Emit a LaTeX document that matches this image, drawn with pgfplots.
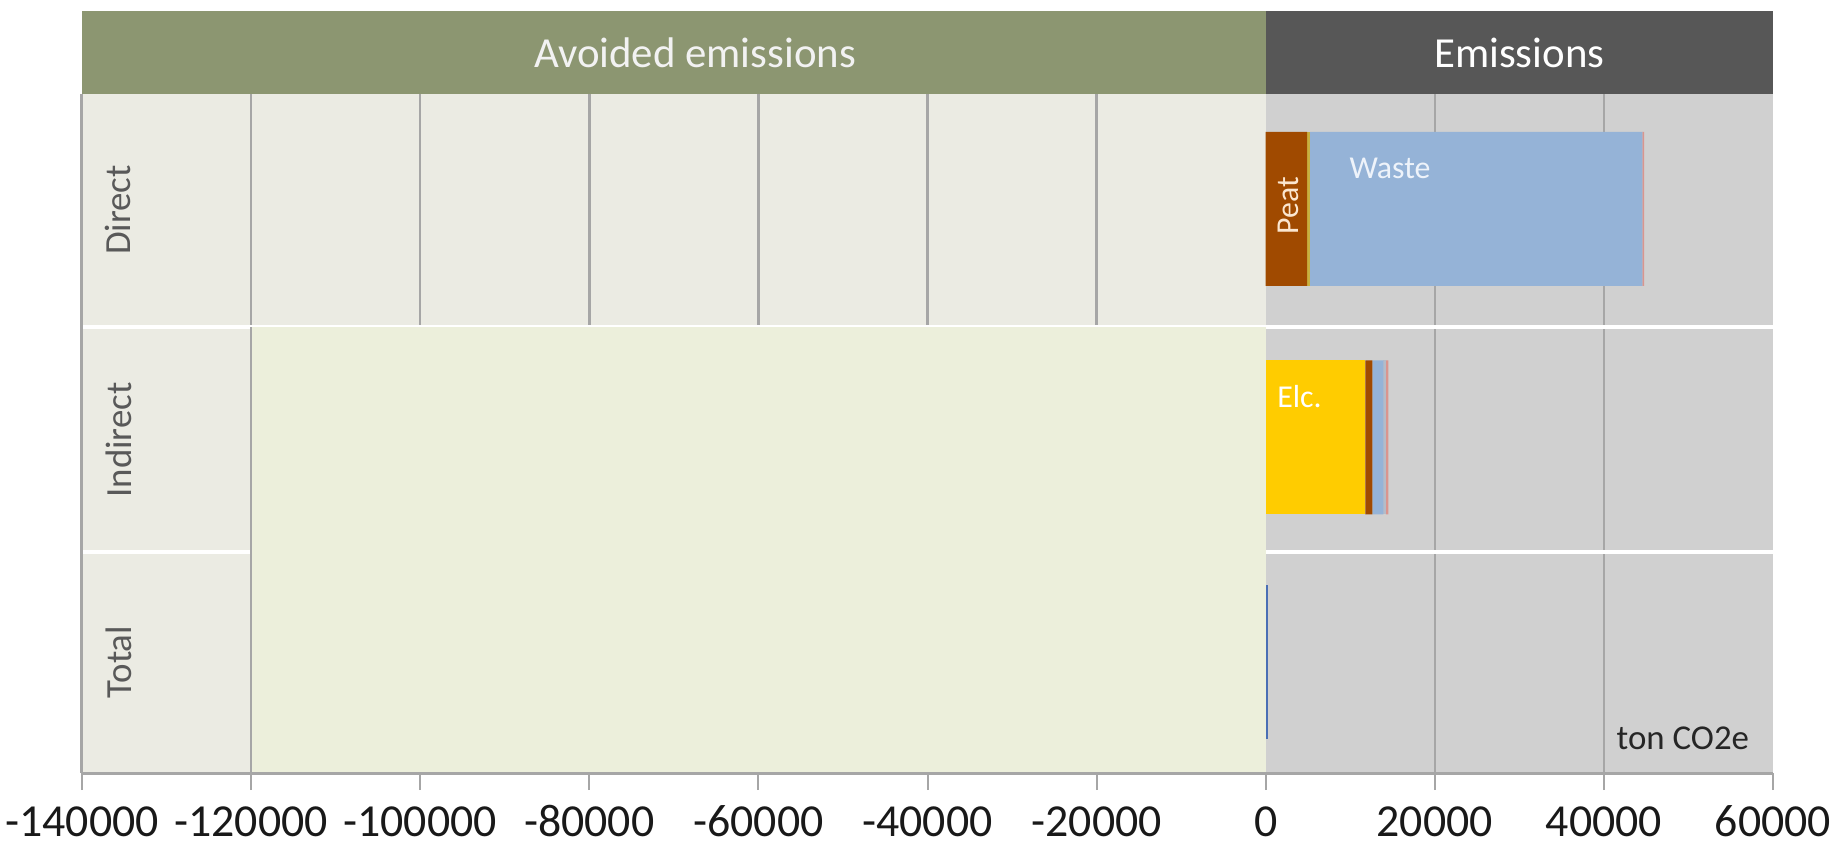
\documentclass[border=0pt]{standalone}
\usepackage{fontspec}
\setmainfont{Carlito}
\usepackage{pgfplots}
\pgfplotsset{compat=1.18}

\definecolor{hdrgreen}{HTML}{8C9671}
\definecolor{hdrgrey}{HTML}{575757}
\definecolor{bgleft}{HTML}{EBEBE3}
\definecolor{bgright}{HTML}{D0D0D0}
\definecolor{blockc}{HTML}{ECEFDB}
\definecolor{gridc}{HTML}{A6A6A6}
\definecolor{rowlab}{HTML}{595959}
\definecolor{peatc}{HTML}{A04A00}
\definecolor{bioc}{HTML}{C8B040}
\definecolor{wastec}{HTML}{95B3D7}
\definecolor{otherc}{HTML}{B4BCC8}
\definecolor{pinkc}{HTML}{D9958F}
\definecolor{elcc}{HTML}{FFCC00}
\definecolor{netc}{HTML}{4A6FB5}
\definecolor{wastetxt}{HTML}{EEF3FA}
\definecolor{peattxt}{HTML}{FBE6CF}

% y values are rows: Direct 564, Indirect 335.5, Total 111
\pgfplotsset{
  base/.style={
    width=845.5bp, height=339.5bp, scale only axis,
    at={(0,0)}, anchor=south west,
    xmin=-140000, xmax=60000, ymin=0, ymax=679,
  },
}

\begin{document}
\begin{tikzpicture}
\path[use as bounding box] (-41bp,-36.5bp) rectangle (875bp,386.5bp);

% background, grid, header, tick labels
\begin{axis}[base,
    clip=false, axis on top=true,
    axis x line*=bottom, axis y line*=left,
    axis line style={draw=gridc, line width=1.5bp},
    ytick=\empty,
    xtick={-140000,-120000,...,60000},
    xticklabels={-140000,-120000,-100000,-80000,-60000,-40000,-20000,0,20000,40000,60000},
    tick align=outside, major tick length=8.5bp,
    every tick/.style={draw=gridc, line width=1bp},
    xticklabel style={font=\fontsize{23}{27}\selectfont, text=black!90,
      anchor=north, text height=15bp, text depth=0pt, yshift=-4.5bp},
  ]
  \fill[bgleft] (axis cs:-140000,0) rectangle (axis cs:0,679);
  \fill[bgright] (axis cs:0,0) rectangle (axis cs:60000,679);
  \pgfplotsinvokeforeach{-120000,-100000,-80000,-60000,-40000,-20000,20000,40000}{
    \draw[gridc, line width=1.2bp] (axis cs:#1,0) -- (axis cs:#1,679);
  }
  \draw[white, line width=2bp] (axis cs:-140000,446) -- (axis cs:60000,446);
  \draw[white, line width=2bp] (axis cs:-140000,221) -- (axis cs:60000,221);

  % avoided emissions block
  \addplot[fill=blockc, draw=none] coordinates {(-120000,0) (0,0) (0,446) (-120000,446)} -- cycle;
  \draw[gridc, line width=1.2bp] (axis cs:-120000,0) -- (axis cs:-120000,446);

  % header
  \fill[hdrgreen] (axis cs:-140000,679) rectangle (axis cs:0,762);
  \fill[hdrgrey] (axis cs:0,679) rectangle (axis cs:60000,762);
  \node[text=white!95!black, font=\fontsize{21.5}{24}\selectfont] at (axis cs:-67500,720.5) {Avoided emissions};
  \node[text=white, font=\fontsize{21.5}{24}\selectfont] at (axis cs:30000,720.5) {Emissions};

  % row labels
  \node[rotate=90, text=rowlab, font=\fontsize{18.5}{22}\selectfont] at (axis cs:-135700,563) {Direct};
  \node[rotate=90, text=rowlab, font=\fontsize{18.5}{22}\selectfont] at (axis cs:-135700,333) {Indirect};
  \node[rotate=90, text=rowlab, font=\fontsize{18.5}{22}\selectfont] at (axis cs:-135700,111) {Total};

  \node[anchor=east, text=black!85, font=\fontsize{17.5}{20}\selectfont] at (axis cs:58000,35) {ton CO2e};
\end{axis}

% stacked emission bars
\begin{axis}[base,
    hide axis, xbar stacked, bar width=77bp,
  ]
  \addplot[fill=elcc, draw=none]   coordinates {(0,564) (11800,335.5) (0,111)};
  \addplot[fill=peatc, draw=none]  coordinates {(4900,564) (800,335.5) (0,111)};
  \addplot[fill=bioc, draw=none]   coordinates {(350,564) (0,335.5) (0,111)};
  \addplot[fill=wastec, draw=none] coordinates {(39300,564) (1300,335.5) (0,111)};
  \addplot[fill=otherc, draw=none] coordinates {(0,564) (300,335.5) (0,111)};
  \addplot[fill=pinkc, draw=none]  coordinates {(200,564) (300,335.5) (0,111)};
  \addplot[fill=netc, draw=none]   coordinates {(0,564) (0,335.5) (250,111)};
\end{axis}

% labels inside the bars
\begin{axis}[base, hide axis, clip=false]
  \node[text=wastetxt, font=\fontsize{16}{19}\selectfont] at (axis cs:14700,605) {Waste};
  \node[rotate=90, text=peattxt, font=\fontsize{16}{19}\selectfont] at (axis cs:2700,567) {Peat};
  \node[text=white, font=\fontsize{16}{19}\selectfont] at (axis cs:4000,376) {Elc.};
\end{axis}
\end{tikzpicture}
\end{document}
